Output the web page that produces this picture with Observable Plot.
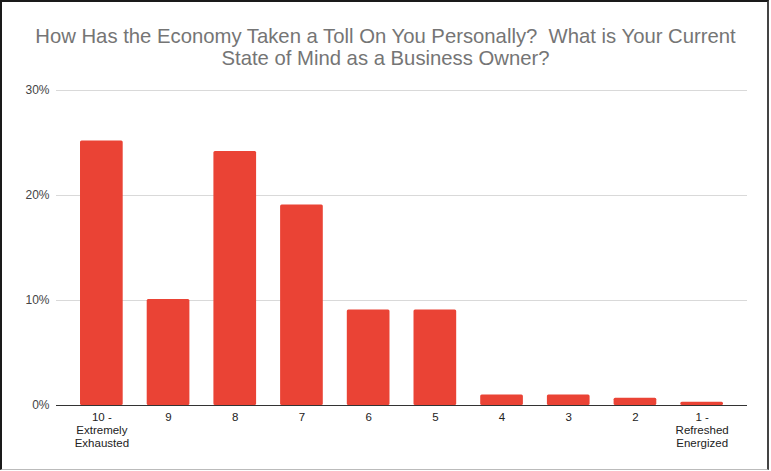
<!DOCTYPE html>
<html>
<head>
<meta charset="utf-8">
<script src="https://cdn.jsdelivr.net/npm/d3@7"></script>
<script src="https://cdn.jsdelivr.net/npm/@observablehq/plot@0.6"></script>
<style>
  html, body { margin: 0; padding: 0; background: #fff; }
  #wrap { position: relative; width: 771px; height: 471px; overflow: hidden; font-family: "Liberation Sans", Arial, Helvetica, sans-serif; }
  #title { position: absolute; left: 0; top: 26px; width: 771px; text-align: center; font-size: 20.3px; line-height: 21.5px; color: #757575; }
  #chart { position: absolute; left: 0; top: 0; }
  #border { position: absolute; left: 0; top: 0; width: 769px; height: 470px; box-sizing: border-box;
            border-top: 2px solid #1a1a1a; border-left: 2px solid #1a1a1a; border-right: 2px solid #444; border-bottom: 1px solid #bbb; pointer-events: none; }
</style>
</head>
<body>
<div id="wrap">
  <div id="chart"></div>
  <div id="title">How Has the Economy Taken a Toll On You Personally?&nbsp; What is Your Current<br>State of Mind as a Business Owner?</div>
  <div id="border"></div>
</div>
<script>
const categories = ["10 -\nExtremely\nExhausted", "9", "8", "7", "6", "5", "4", "3", "2", "1 -\nRefreshed\nEnergized"];
const shares = [0.252, 0.101, 0.242, 0.191, 0.091, 0.091, 0.010, 0.010, 0.007, 0.003];
const yTicks = [0, 0.1, 0.2, 0.3];

const data = categories.map((c, i) => ({cat: c, share: shares[i]}));

const chart = Plot.plot({
  width: 771,
  height: 471,
  marginTop: 90,
  marginBottom: 66,
  marginLeft: 56,
  marginRight: 24,
  style: {fontFamily: "'Liberation Sans', Arial, Helvetica, sans-serif", background: "transparent"},
  x: {domain: categories, padding: 0.36, round: false, label: null},
  y: {domain: [0, 0.3], label: null},
  marks: [
    Plot.gridY(yTicks.slice(1), {stroke: "#d9d9d9", strokeOpacity: 1}),
    Plot.barY(data, {x: "cat", y: "share", fill: "#ea4335", rx: 1.5}),
    Plot.ruleY([0], {stroke: "#333", strokeWidth: 1}),
    Plot.axisY(yTicks, {tickSize: 0, tickPadding: 7, tickFormat: d3.format(".0%"), fontSize: 12, fill: "#444", label: null}),
    Plot.axisX({tickSize: 0, tickPadding: 6, fontSize: 11.5, fill: "#222", lineHeight: 1.15, label: null})
  ]
});
document.getElementById("chart").appendChild(chart);
</script>
</body>
</html>
